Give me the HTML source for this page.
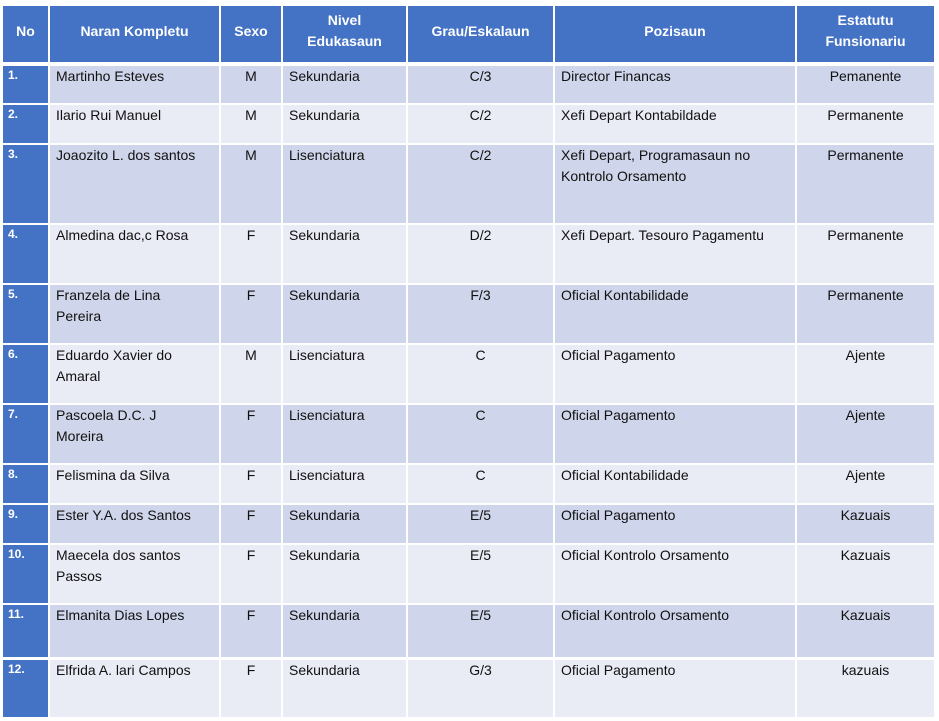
<!DOCTYPE html>
<html><head><meta charset="utf-8"><style>
body{margin:0;width:939px;height:721px;background:#fff;position:relative;overflow:hidden;font-family:"Liberation Sans",Arial,sans-serif;}
.c{position:absolute;box-sizing:border-box;font-size:14px;line-height:21px;color:#111;padding:0 6px;white-space:nowrap}
.h{background:#4472C4;color:#fff;font-weight:bold;text-align:center;display:flex;align-items:center;justify-content:center;line-height:21px;font-size:14px;white-space:normal;padding-bottom:6px}
.n{background:#4472C4;color:#fff;font-weight:bold;font-size:12px;line-height:17px;padding:1px 5px}
.ctr{text-align:center}
.o{background:#CFD5EA}.e{background:#E9EBF5}
</style></head><body>
<div id="t"></div>
<script>
const cols=[3,49,220,282,407,554,796,935];
const rows=[[6,62],[66,103],[105,143],[145,223],[225,283],[285,343],[345,403],[405,463],[465,503],[505,543],[545,603],[605,657],[660,717]];
const hdr=["No","Naran Kompletu","Sexo","Nivel<br>Edukasaun","Grau/Eskalaun","Pozisaun","Estatutu<br>Funsionariu"];
const data=[
["1.","Martinho Esteves","M","Sekundaria","C/3","Director Financas","Pemanente"],
["2.","Ilario Rui Manuel","M","Sekundaria","C/2","Xefi Depart Kontabildade","Permanente"],
["3.","Joaozito L. dos santos","M","Lisenciatura","C/2","Xefi Depart, Programasaun no<br>Kontrolo Orsamento","Permanente"],
["4.","Almedina dac,c Rosa","F","Sekundaria","D/2","Xefi Depart. Tesouro Pagamentu","Permanente"],
["5.","Franzela de Lina<br>Pereira","F","Sekundaria","F/3","Oficial Kontabilidade","Permanente"],
["6.","Eduardo Xavier do<br>Amaral","M","Lisenciatura","C","Oficial Pagamento","Ajente"],
["7.","Pascoela D.C. J<br>Moreira","F","Lisenciatura","C","Oficial Pagamento","Ajente"],
["8.","Felismina da Silva","F","Lisenciatura","C","Oficial Kontabilidade","Ajente"],
["9.","Ester Y.A. dos Santos","F","Sekundaria","E/5","Oficial Pagamento","Kazuais"],
["10.","Maecela dos santos<br>Passos","F","Sekundaria","E/5","Oficial Kontrolo Orsamento","Kazuais"],
["11.","Elmanita Dias Lopes","F","Sekundaria","E/5","Oficial Kontrolo Orsamento","Kazuais"],
["12.","Elfrida A. lari Campos","F","Sekundaria","G/3","Oficial Pagamento","kazuais"]];
let h="";
const center=[false,false,true,false,true,false,true];
for(let r=0;r<rows.length;r++){
 const [y0,y1]=rows[r];
 for(let c=0;c<7;c++){
  const x0=cols[c]+(c?1:0), x1=cols[c+1]-1;
  let cls, txt;
  if(r==0){cls="h";txt=hdr[c];}
  else if(c==0){cls="n";txt=data[r-1][0];}
  else{cls=(r%2?"o":"e")+(center[c]?" ctr":"");txt=data[r-1][c];}
  h+=`<div class="c ${cls}" style="left:${x0}px;top:${y0}px;width:${x1-x0}px;height:${y1-y0}px">${txt}</div>`;
 }
}
document.getElementById("t").innerHTML=h;
</script>
</body></html>
